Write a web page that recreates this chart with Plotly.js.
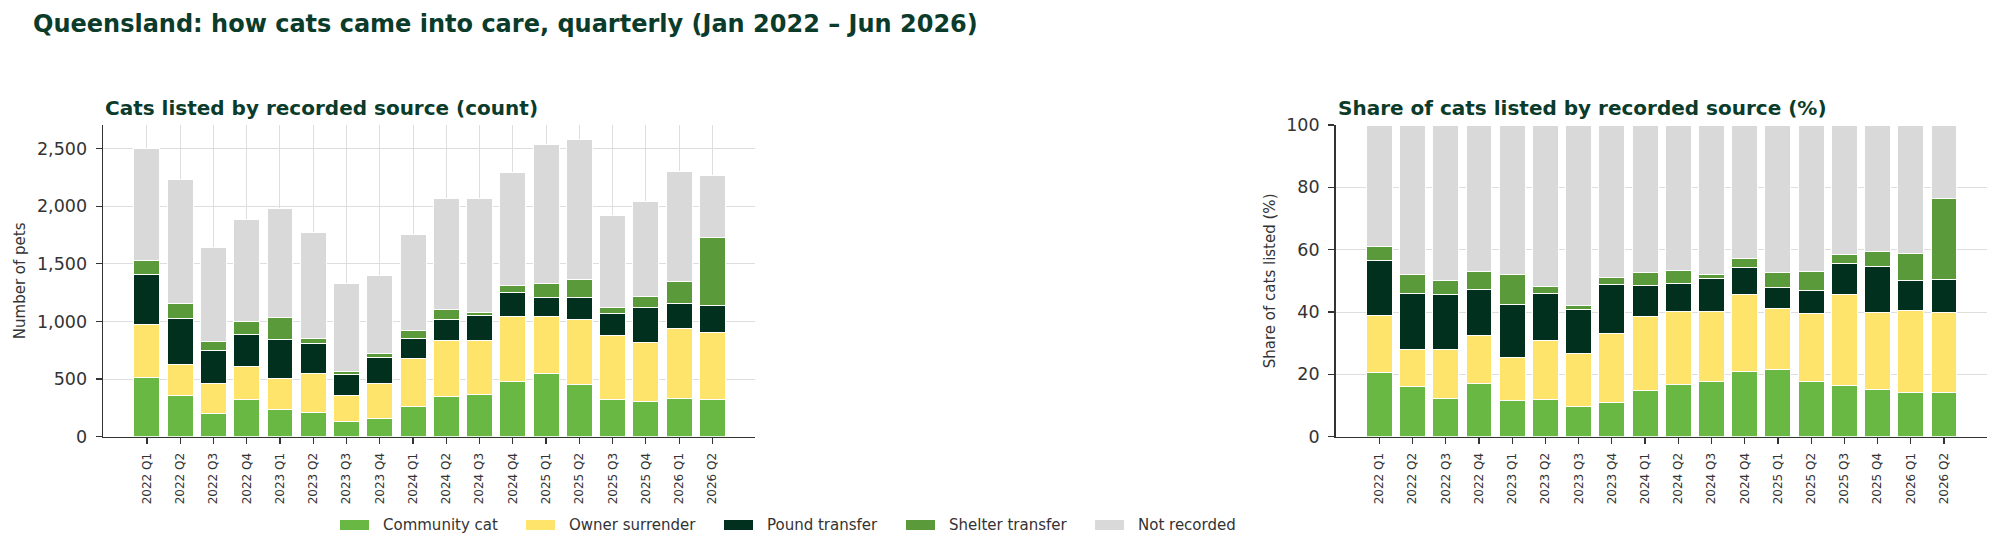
<!DOCTYPE html>
<html>
<head>
<meta charset="utf-8">
<script src="https://cdn.plot.ly/plotly-3.0.1.min.js"></script>
<style>
  html, body { margin: 0; padding: 0; background: #ffffff; }
  #chart { width: 2000px; height: 552px; }
</style>
</head>
<body>
<div id="chart"></div>
<script>
var quarters = ["2022 Q1", "2022 Q2", "2022 Q3", "2022 Q4", "2023 Q1", "2023 Q2", "2023 Q3", "2023 Q4",
                "2024 Q1", "2024 Q2", "2024 Q3", "2024 Q4", "2025 Q1", "2025 Q2", "2025 Q3", "2025 Q4",
                "2026 Q1", "2026 Q2"];

var communityCat    = [513, 359, 203, 324, 232, 209, 130, 154, 261, 348, 365, 481, 545, 452, 319, 307, 330, 324];
var ownerSurrender  = [457, 264, 258, 287, 272, 336, 226, 312, 417, 483, 469, 565, 498, 562, 556, 510, 606, 580];
var poundTransfer   = [441, 403, 289, 278, 336, 266, 186, 218, 171, 183, 215, 203, 165, 191, 194, 301, 220, 237];
var shelterTransfer = [119, 130,  76, 108, 191,  44,  20,  34,  75,  87,  29,  63, 125, 157,  55,  96, 194, 586];
var notRecorded     = [973, 1072, 817, 886, 951, 915, 771, 684, 829, 962, 993, 985, 1199, 1213, 800, 831, 953, 536];

var seriesNames = ["Community cat", "Owner surrender", "Pound transfer", "Shelter transfer", "Not recorded"];
var seriesValues = [communityCat, ownerSurrender, poundTransfer, shelterTransfer, notRecorded];
var seriesColors = ["#69b844", "#ffe46c", "#02301f", "#5b9a3b", "#d9d9d9"];

var W = 2000, H = 552;
function px(x) { return x / W; }
function py(y) { return (H - y) / H; }

var totals = quarters.map((q, i) => seriesValues.reduce((sum, s) => sum + s[i], 0));

var traces = [];
seriesNames.forEach(function (name, k)
{
    traces.push({
        type: "bar",
        name: name,
        x: quarters,
        y: seriesValues[k],
        xaxis: "x",
        yaxis: "y",
        marker: { color: seriesColors[k], line: { color: "#ffffff", width: 1 } },
        showlegend: false,
        hoverinfo: "skip"
    });
    traces.push({
        type: "bar",
        name: name,
        x: quarters,
        y: seriesValues[k].map((v, i) => v / totals[i] * 100),
        xaxis: "x2",
        yaxis: "y2",
        marker: { color: seriesColors[k], line: { color: "#ffffff", width: 1 } },
        showlegend: false,
        hoverinfo: "skip"
    });
});

var axisColor = "#333333";
var gridColor = "#dedede";
var tickFont = { family: "DejaVu Sans", size: 17.5, color: "#333333" };
var catFont = { family: "DejaVu Sans", size: 12, color: "#333333" };
var titleColor = "#0b3b2a";

var yDomain = [py(436.7), py(125)];

function catAxis(domain, grid)
{
    return {
        domain: domain,
        type: "category",
        range: [-1.32, 18.28],
        tickangle: -90,
        tickfont: catFont,
        ticks: "outside",
        ticklen: 6,
        tickwidth: 1.2,
        tickcolor: axisColor,
        ticklabelstandoff: 4,
        showline: true,
        linecolor: axisColor,
        linewidth: 1.4,
        showgrid: grid,
        gridcolor: gridColor,
        gridwidth: 1,
        zeroline: false,
        fixedrange: true
    };
}

function valueAxis(anchor, range, dtick, format)
{
    return {
        anchor: anchor,
        domain: yDomain,
        range: range,
        dtick: dtick,
        tickformat: format,
        tickfont: tickFont,
        ticks: "outside",
        ticklen: 6,
        tickwidth: 1.2,
        tickcolor: axisColor,
        ticklabelstandoff: 5,
        showline: true,
        linecolor: axisColor,
        linewidth: 1.4,
        showgrid: true,
        gridcolor: gridColor,
        gridwidth: 1,
        zeroline: false,
        fixedrange: true
    };
}

// legend drawn by hand so the swatches match the wide flat ones in the picture
var legendX = [340, 526, 724, 906, 1095];
var shapes = [];
var annotations = [
    {
        text: "Cats listed by recorded source (count)",
        xref: "paper", yref: "paper", x: px(103), y: py(108),
        xanchor: "left", yanchor: "middle", showarrow: false,
        font: { family: "DejaVu Sans", size: 20, weight: "bold", color: titleColor }
    },
    {
        text: "Share of cats listed by recorded source (%)",
        xref: "paper", yref: "paper", x: px(1336), y: py(108),
        xanchor: "left", yanchor: "middle", showarrow: false,
        font: { family: "DejaVu Sans", size: 20, weight: "bold", color: titleColor }
    }
];
seriesNames.forEach(function (name, k)
{
    shapes.push({
        type: "rect", xref: "paper", yref: "paper",
        x0: px(legendX[k]), x1: px(legendX[k] + 29),
        y0: py(530), y1: py(520),
        fillcolor: seriesColors[k], line: { width: 0 }
    });
    annotations.push({
        text: name,
        xref: "paper", yref: "paper", x: px(legendX[k] + 41), y: py(525),
        xanchor: "left", yanchor: "middle", showarrow: false,
        font: { family: "DejaVu Sans", size: 15, color: "#333333" }
    });
});

var layout = {
    width: W,
    height: H,
    margin: { l: 0, r: 0, t: 0, b: 0 },
    paper_bgcolor: "#ffffff",
    plot_bgcolor: "#ffffff",
    barmode: "stack",
    bargap: 0.22,
    showlegend: false,
    title: {
        text: "Queensland: how cats came into care, quarterly (Jan 2022 \u2013 Jun 2026)",
        x: px(33), xref: "paper", xanchor: "left",
        y: py(24), yref: "container", yanchor: "middle",
        font: { family: "DejaVu Sans", size: 24, weight: "bold", color: titleColor }
    },
    xaxis: catAxis([px(103), px(755)], true),
    yaxis: Object.assign(valueAxis("x", [0, 2705], 500, ",d"), {
        title: { text: "Number of pets", standoff: 7, font: { family: "DejaVu Sans", size: 15, color: "#333333" } }
    }),
    xaxis2: Object.assign(catAxis([px(1335.5), px(1986.5)], false), { anchor: "y2" }),
    yaxis2: Object.assign(valueAxis("x2", [0, 100], 20, "d"), {
        title: { text: "Share of cats listed (%)", standoff: 7, font: { family: "DejaVu Sans", size: 15, color: "#333333" } }
    }),
    shapes: shapes,
    annotations: annotations
};
layout.xaxis.anchor = "y";

Plotly.newPlot("chart", traces, layout, { displayModeBar: false, staticPlot: true });
</script>
</body>
</html>
